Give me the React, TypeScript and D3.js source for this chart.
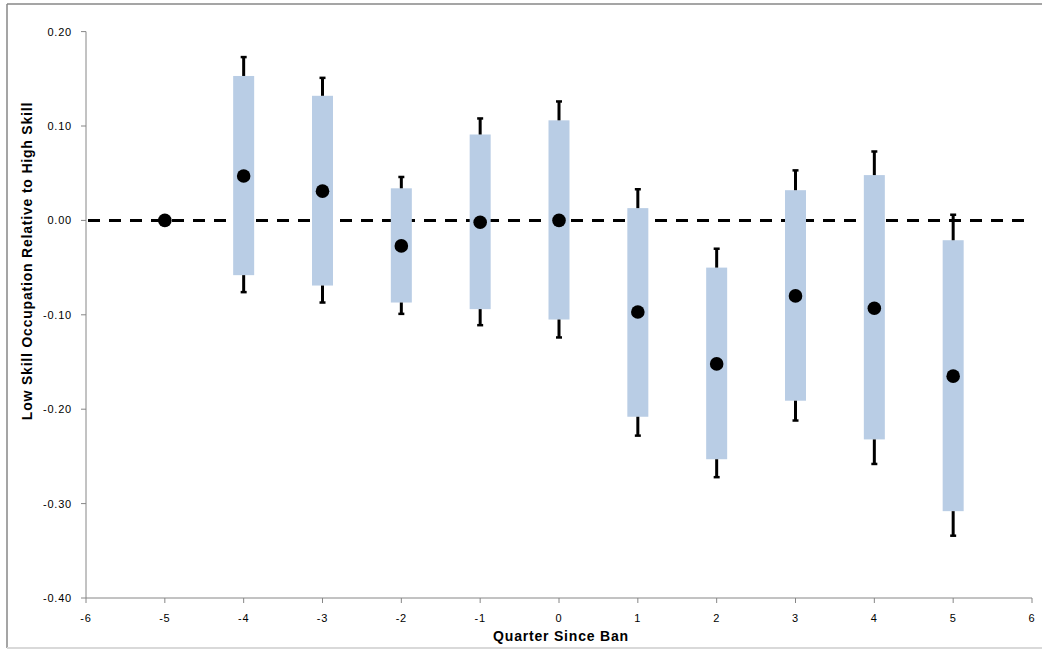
import React from "react";
import * as d3 from "d3";

const quarters = [-5, -4, -3, -2, -1, 0, 1, 2, 3, 4, 5];
const estimate = [0, 0.047, 0.031, -0.027, -0.002, 0.0, -0.097, -0.152, -0.080, -0.093, -0.165];
const boxHigh = [null, 0.153, 0.132, 0.034, 0.091, 0.106, 0.013, -0.050, 0.032, 0.048, -0.021];
const boxLow = [null, -0.058, -0.069, -0.087, -0.094, -0.105, -0.208, -0.253, -0.191, -0.232, -0.308];
const ciHigh = [null, 0.173, 0.151, 0.046, 0.108, 0.126, 0.033, -0.030, 0.053, 0.073, 0.006];
const ciLow = [null, -0.076, -0.087, -0.099, -0.111, -0.124, -0.228, -0.272, -0.212, -0.258, -0.334];
const xTicks = [-6, -5, -4, -3, -2, -1, 0, 1, 2, 3, 4, 5, 6];
const yTicks = [0.2, 0.1, 0.0, -0.1, -0.2, -0.3, -0.4];

const W = 1042;
const H = 652;
const left = 86;
const right = 1032;
const top = 31.6;
const bottom = 598;

export default function App() {
  const x = d3.scaleLinear().domain([-6, 6]).range([left, right]);
  const y = d3.scaleLinear().domain([-0.4, 0.2]).range([bottom, top]);
  const axisColor = "#868686";
  const font = "'Liberation Sans', Arial, sans-serif";
  const barW = 21;
  const capW = 6;

  return (
    <svg
      width={W}
      height={H}
      style={{ position: "absolute", left: 0, top: 0, background: "#fff" }}
    >
      {/* outer frame */}
      <line x1={7} y1={4} x2={W} y2={4} stroke="#878787" strokeWidth={1.5} />
      <line x1={7} y1={4} x2={7} y2={648} stroke="#878787" strokeWidth={1.5} />
      <line x1={7} y1={648} x2={W} y2={648} stroke="#d9d9d9" strokeWidth={2} />

      {/* zero dashed line */}
      <line
        x1={x(-6) + 2}
        x2={x(6)}
        y1={y(0)}
        y2={y(0)}
        stroke="#000"
        strokeWidth={3}
        strokeDasharray="12 9"
      />

      {/* axes */}
      <line x1={left} x2={left} y1={top} y2={bottom} stroke={axisColor} strokeWidth={1} />
      <line x1={left} x2={right} y1={bottom} y2={bottom} stroke={axisColor} strokeWidth={1} />
      {yTicks.map((t) => (
        <g key={"y" + t}>
          <line x1={left - 5} x2={left} y1={y(t)} y2={y(t)} stroke={axisColor} />
          <text
            x={left - 14}
            y={y(t)}
            textAnchor="end"
            dominantBaseline="central"
            fontFamily={font}
            fontSize={11}
            letterSpacing={0.8}
            fill="#000"
          >
            {d3.format(".2f")(t).replace("−", "-")}
          </text>
        </g>
      ))}
      {xTicks.map((t) => (
        <g key={"x" + t}>
          <line x1={x(t)} x2={x(t)} y1={bottom} y2={bottom + 5} stroke={axisColor} />
          <text
            x={x(t)}
            y={618}
            textAnchor="middle"
            dominantBaseline="central"
            fontFamily={font}
            fontSize={11}
            letterSpacing={0.8}
            fill="#000"
          >
            {String(t)}
          </text>
        </g>
      ))}

      {/* boxes */}
      {quarters.map((q, i) =>
        boxHigh[i] === null ? null : (
          <rect
            key={"b" + q}
            x={x(q) - barW / 2}
            width={barW}
            y={y(boxHigh[i] as number)}
            height={y(boxLow[i] as number) - y(boxHigh[i] as number)}
            fill="#B9CDE5"
          />
        )
      )}

      {/* whiskers */}
      {quarters.map((q, i) =>
        ciHigh[i] === null ? null : (
          <g key={"w" + q} stroke="#000">
            <line x1={x(q)} x2={x(q)} y1={y(ciHigh[i] as number)} y2={y(boxHigh[i] as number)} strokeWidth={3} />
            <line x1={x(q)} x2={x(q)} y1={y(boxLow[i] as number)} y2={y(ciLow[i] as number)} strokeWidth={3} />
            <line x1={x(q) - capW / 2} x2={x(q) + capW / 2} y1={y(ciHigh[i] as number)} y2={y(ciHigh[i] as number)} strokeWidth={2.5} />
            <line x1={x(q) - capW / 2} x2={x(q) + capW / 2} y1={y(ciLow[i] as number)} y2={y(ciLow[i] as number)} strokeWidth={2.5} />
          </g>
        )
      )}

      {/* estimates */}
      {quarters.map((q, i) => (
        <circle key={"c" + q} cx={x(q)} cy={y(estimate[i])} r={6.8} fill="#000" />
      ))}

      {/* axis titles */}
      <text
        x={(left + right) / 2 + 2}
        y={636}
        textAnchor="middle"
        dominantBaseline="central"
        fontFamily={font}
        fontWeight="bold"
        fontSize={14}
        letterSpacing={0.8}
        fill="#000"
      >
        Quarter Since Ban
      </text>
      <text
        transform={`translate(27, 261) rotate(-90)`}
        textAnchor="middle"
        dominantBaseline="central"
        fontFamily={font}
        fontWeight="bold"
        fontSize={14}
        letterSpacing={0.8}
        fill="#000"
      >
        Low Skill Occupation Relative to High Skill
      </text>
    </svg>
  );
}
